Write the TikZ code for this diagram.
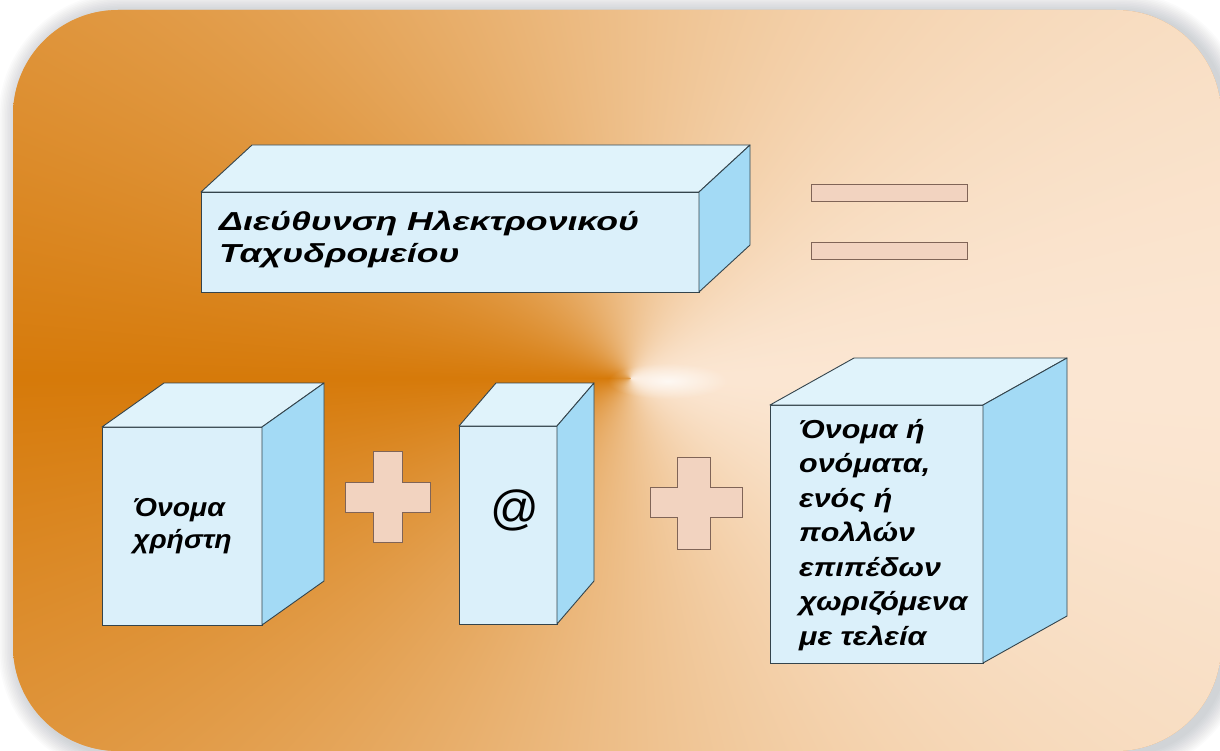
\documentclass[tikz,border=0pt]{standalone}
\usepackage{fontspec}
\usepackage{graphicx}
\setmainfont{Liberation Sans}
\usetikzlibrary{fadings}
\definecolor{frontc}{HTML}{DBF0FA}
\definecolor{topc}{HTML}{E0F3FB}
\definecolor{sidec}{HTML}{A3DAF5}
\definecolor{edgec}{HTML}{34444C}
\definecolor{plusc}{HTML}{F2D3C0}
\definecolor{plusedge}{HTML}{806457}
\definecolor{basec}{HTML}{E9AC6E}
\definecolor{shadowc}{HTML}{5A6470}
\tikzfading[name=glowfade, inner color=transparent!0, outer color=transparent!100]
\pgfdeclarefunctionalshading{conicbg}{\pgfpoint{-50bp}{-50bp}}{\pgfpoint{50bp}{50bp}}{}{
exch 25 add 24.16 mul 617 sub exch 25 exch sub 14.82 mul 368 sub exch atan 180 sub abs 180 exch sub 180 div 1.5 exp dup 0.145 mul 0.984 exch sub exch dup 0.424 mul 0.902 exch sub exch 0.785 mul 0.824 exch sub
}
\newcommand\stretchlines[2]{\scalebox{#1}[1]{\begin{tabular}{@{}l@{}}#2\end{tabular}}}
\begin{document}
\begin{tikzpicture}[x=1pt,y=-1pt,
  frontbox/.style={draw=edgec, fill=frontc, line width=0.9pt, inner sep=0pt, outer sep=0pt, anchor=north west},
  face/.style={draw=edgec, line width=0.9pt, line join=round},
  lbl/.style={inner sep=0pt, anchor=west, text=black},
  plusst/.style={draw=plusedge, fill=plusc, line width=1pt, line join=miter},
]
\useasboundingbox (0,0) rectangle (1220,751);
\fill[white] (0,0) rectangle (1220,751);
% soft shadow
\foreach \i in {1,...,12}{
  \pgfmathsetmacro\e{\i*1.6}
  \pgfmathsetmacro\rr{105+\e}
  \fill[shadowc, opacity=0.025, rounded corners=\rr pt] ({13+5-\e},{10+2-\e}) rectangle ({1221+5+\e},{751+4+\e});
}
% background panel
\fill[basec, rounded corners=105pt] (13,10) rectangle (1221,751);
\shade[shading=conicbg, rounded corners=105pt] (13,10) rectangle (1221,751);
\fill[white, path fading=glowfade, opacity=0.75] (668,381) ellipse [x radius=60, y radius=18];

% top box
\node[frontbox, minimum width=498pt, minimum height=100pt] (addrF) at (201,192) {};
\filldraw[face, fill=topc] (addrF.north west) -- ++(51,-47) -- ++(498,0) -- (addrF.north east) -- cycle;
\filldraw[face, fill=sidec] (addrF.north east) -- ++(51,-47) -- ++(0,100) -- (addrF.south east) -- cycle;
\node[lbl, font=\fontsize{26}{32}\selectfont\bfseries\itshape] (addrT) at (219,240)
  {\stretchlines{1.37}{Διεύθυνση Ηλεκτρονικού\\Ταχυδρομείου}};

% equals sign
\filldraw[plusst] (811,185) rectangle (967,202);
\filldraw[plusst] (811,243) rectangle (967,260);

% user name cube
\node[frontbox, minimum width=160pt, minimum height=198pt] (userF) at (102,427) {};
\filldraw[face, fill=topc] (userF.north west) -- ++(62,-44) -- ++(160,0) -- (userF.north east) -- cycle;
\filldraw[face, fill=sidec] (userF.north east) -- ++(62,-44) -- ++(0,198) -- (userF.south east) -- cycle;
\node[lbl, font=\fontsize{26}{32}\selectfont\bfseries\itshape] (userT) at (133,526)
  {\stretchlines{1.09}{Όνομα\\χρήστη}};

% plus 1
\filldraw[plusst] (373,451) -- (402,451) -- (402,482) -- (430,482) -- (430,512) -- (402,512) -- (402,542) -- (373,542) -- (373,512) -- (345,512) -- (345,482) -- (373,482) -- cycle;

% @ box
\node[frontbox, minimum width=98pt, minimum height=198pt] (atF) at (459,426) {};
\filldraw[face, fill=topc] (atF.north west) -- ++(37,-43) -- ++(98,0) -- (atF.north east) -- cycle;
\filldraw[face, fill=sidec] (atF.north east) -- ++(37,-43) -- ++(0,198) -- (atF.south east) -- cycle;
\node[inner sep=0pt, font=\fontsize{48}{50}\selectfont] (atT) at (515,510) {@};

% plus 2
\filldraw[plusst] (677,457) -- (710,457) -- (710,487) -- (742,487) -- (742,517) -- (710,517) -- (710,549) -- (677,549) -- (677,517) -- (650,517) -- (650,487) -- (677,487) -- cycle;

% domain box
\node[frontbox, minimum width=213pt, minimum height=258pt] (domF) at (770,405) {};
\filldraw[face, fill=topc] (domF.north west) -- ++(84,-47) -- ++(213,0) -- (domF.north east) -- cycle;
\filldraw[face, fill=sidec] (domF.north east) -- ++(84,-47) -- ++(0,258) -- (domF.south east) -- cycle;
\node[lbl, font=\fontsize{26}{34.5}\selectfont\bfseries\itshape] (domT) at (799,535)
  {\stretchlines{1.17}{Όνομα ή\\ονόματα,\\ενός ή\\πολλών\\επιπέδων\\χωριζόμενα\\με τελεία}};
\end{tikzpicture}
\end{document}
